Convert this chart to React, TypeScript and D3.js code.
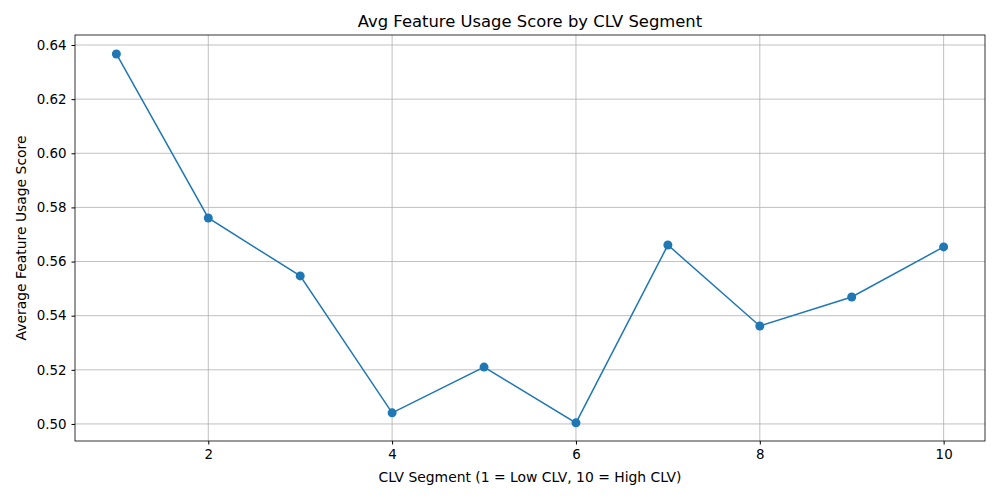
import * as d3 from 'd3';
import React, { useEffect, useRef } from 'react';

const segments = [1, 2, 3, 4, 5, 6, 7, 8, 9, 10];
const usageScores = [0.6367, 0.5761, 0.5547, 0.5041, 0.521, 0.5004, 0.5661, 0.5362, 0.5469, 0.5654];
const xTicks = [2, 4, 6, 8, 10];
const yTicks = [0.5, 0.52, 0.54, 0.56, 0.58, 0.6, 0.62, 0.64];

const App: React.FC = () => {
  const ref = useRef<SVGSVGElement | null>(null);

  useEffect(() => {
    const width = 1000;
    const height = 500;
    const margin = { top: 35, right: 15, bottom: 59, left: 75 };
    const innerW = width - margin.left - margin.right;
    const innerH = height - margin.top - margin.bottom;
    const color = '#1f77b4';

    const svg = d3.select(ref.current);
    svg.selectAll('*').remove();
    svg.style('font-family', '"DejaVu Sans", sans-serif');

    const x = d3.scaleLinear().domain([0.55, 10.45]).range([0, innerW]);
    const y = d3.scaleLinear().domain([0.4937, 0.6437]).range([innerH, 0]);

    const g = svg.append('g').attr('transform', `translate(${margin.left},${margin.top})`);

    // grid
    g.selectAll('.vgrid').data(xTicks).enter().append('line')
      .attr('x1', d => x(d)).attr('x2', d => x(d)).attr('y1', 0).attr('y2', innerH)
      .attr('stroke', '#b0b0b0').attr('stroke-width', 0.8);
    g.selectAll('.hgrid').data(yTicks).enter().append('line')
      .attr('y1', d => y(d)).attr('y2', d => y(d)).attr('x1', 0).attr('x2', innerW)
      .attr('stroke', '#b0b0b0').attr('stroke-width', 0.8);

    const xAxis = g.append('g').attr('transform', `translate(0,${innerH})`)
      .call(d3.axisBottom(x).tickValues(xTicks).tickSize(3.5).tickPadding(5).tickFormat(d3.format('d')));
    const yAxis = g.append('g')
      .call(d3.axisLeft(y).tickValues(yTicks).tickSize(3.5).tickPadding(5).tickFormat(d3.format('.2f')));
    [xAxis, yAxis].forEach(a => {
      a.select('.domain').remove();
      a.selectAll('text').attr('font-size', 13.4).attr('fill', '#000').style('font-family', '"DejaVu Sans", sans-serif');
      a.selectAll('line').attr('stroke', '#000');
    });

    g.append('rect').attr('width', innerW).attr('height', innerH)
      .attr('fill', 'none').attr('stroke', '#000').attr('stroke-width', 0.8);

    const pts = segments.map((s, i) => [s, usageScores[i]] as [number, number]);
    g.append('path').datum(pts)
      .attr('d', d3.line<[number, number]>().x(d => x(d[0])).y(d => y(d[1])))
      .attr('fill', 'none').attr('stroke', color).attr('stroke-width', 1.5);
    g.selectAll('.pt').data(pts).enter().append('circle')
      .attr('cx', d => x(d[0])).attr('cy', d => y(d[1])).attr('r', 4.5).attr('fill', color);

    svg.append('text').attr('x', margin.left + innerW / 2).attr('y', 27)
      .attr('text-anchor', 'middle').attr('font-size', 16.4).text('Avg Feature Usage Score by CLV Segment');
    svg.append('text').attr('x', margin.left + innerW / 2).attr('y', 482)
      .attr('text-anchor', 'middle').attr('font-size', 13.9).text('CLV Segment (1 = Low CLV, 10 = High CLV)');
    svg.append('text').attr('transform', `translate(26,${margin.top + innerH / 2}) rotate(-90)`)
      .attr('text-anchor', 'middle').attr('font-size', 13.9).text('Average Feature Usage Score');
  }, []);

  return (
    <div style={{ position: 'absolute', left: 0, top: 0 }}>
      <svg ref={ref} width={1000} height={500} style={{ display: 'block', background: '#fff' }} />
    </div>
  );
};

export default App;
